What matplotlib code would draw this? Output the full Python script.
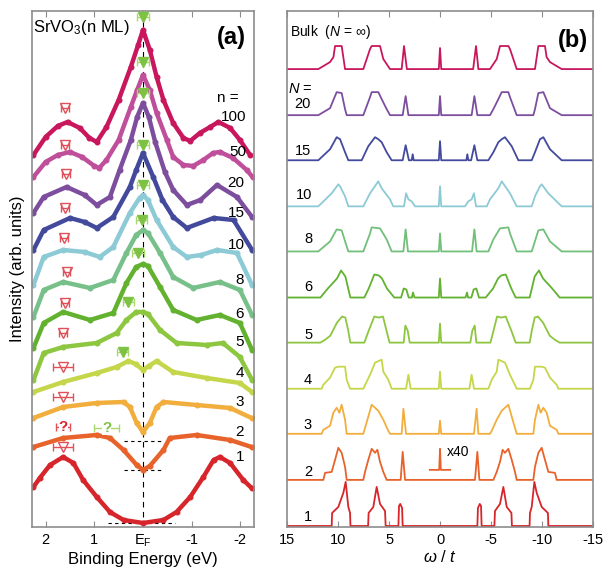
import numpy as np
import matplotlib.pyplot as plt

plt.rcParams['font.family'] = ['Liberation Sans', 'DejaVu Sans']
plt.rcParams['mathtext.fontset'] = 'custom'
plt.rcParams['mathtext.rm'] = 'Liberation Sans'
plt.rcParams['mathtext.it'] = 'Liberation Sans:italic'

###############################################################################
# panel (a): photoemission spectra, SrVO3 films of n monolayers
# binding energy (eV) and intensity (arb. units)

E_1 = [2.25, 2.12, 1.91, 1.64, 1.43, 1.23, 0.95, 0.68, 0.4, 0.0, -0.42, -0.69, -0.97, -1.24, -1.45, -1.58, -1.79, -2.06, -2.23]
I_1 = [40, 49, 62, 70, 64, 47, 30, 15, 7, 4, 7, 15, 30, 50, 67, 70, 64, 47, 39]
E_2 = [2.25, 1.64, 0.95, 0.68, 0.4, 0.13, 0.0, -0.14, -0.42, -0.55, -1.1, -1.79, -2.23]
I_2 = [80, 89, 92, 89, 77, 62, 57, 61, 77, 89, 92, 87, 80]
E_3 = [2.25, 1.64, 0.95, 0.4, 0.27, 0.13, 0.0, -0.14, -0.28, -0.42, -1.1, -1.79, -2.23]
I_3 = [109, 120, 124, 125, 120, 104, 95, 104, 120, 125, 122, 119, 109]
E_4 = [2.25, 1.64, 0.95, 0.54, 0.3, 0.15, 0.0, -0.12, -0.28, -0.62, -1.31, -1.99, -2.24]
I_4 = [135, 145, 154, 160, 166, 163, 157, 161, 166, 155, 149, 144, 135]
E_5 = [2.25, 2.04, 1.64, 0.95, 0.54, 0.34, 0.14, 0.0, -0.1, -0.35, -0.69, -1.31, -1.64, -1.99, -2.24]
I_5 = [147, 174, 180, 184, 194, 207, 215, 215, 213, 197, 184, 182, 184, 170, 147]
E_6 = [2.25, 2.04, 1.64, 1.09, 0.61, 0.34, 0.14, 0.0, -0.1, -0.35, -0.62, -1.1, -1.58, -1.99, -2.24]
I_6 = [179, 204, 215, 207, 214, 244, 260, 263, 261, 240, 217, 207, 212, 204, 177]
E_8 = [2.25, 2.04, 1.64, 1.09, 0.61, 0.34, 0.14, 0.0, -0.1, -0.35, -0.62, -1.03, -1.58, -1.99, -2.24]
I_8 = [210, 237, 245, 239, 247, 274, 292, 297, 294, 274, 250, 239, 245, 237, 212]
E_10 = [2.25, 2.04, 1.64, 1.2, 0.89, 0.61, 0.27, 0.07, 0.0, -0.1, -0.28, -0.62, -0.9, -1.2, -1.52, -1.93, -2.24]
I_10 = [242, 270, 277, 275, 270, 280, 314, 329, 332, 327, 307, 280, 270, 272, 277, 274, 242]
E_15 = [2.25, 2.04, 1.5, 1.2, 0.95, 0.61, 0.27, 0.14, 0.0, -0.21, -0.4, -0.62, -0.9, -1.45, -1.86, -2.24]
I_15 = [277, 297, 309, 305, 299, 310, 340, 357, 374, 350, 327, 310, 299, 309, 307, 277]
E_20 = [2.25, 2.04, 1.57, 1.2, 0.95, 0.68, 0.48, 0.25, 0.12, 0.0, -0.12, -0.25, -0.45, -0.62, -0.9, -1.18, -1.52, -1.93, -2.24]
I_20 = [314, 330, 340, 332, 322, 330, 357, 387, 410, 424, 410, 385, 355, 337, 322, 327, 342, 330, 310]
E_50 = [2.25, 2.0, 1.75, 1.5, 1.25, 1.0, 0.9, 0.75, 0.5, 0.25, 0.12, 0.0, -0.14, -0.28, -0.49, -0.62, -0.83, -1.03, -1.24, -1.44, -1.58, -1.85, -2.13, -2.25]
I_50 = [350, 365, 372, 375, 370, 361, 359, 367, 387, 420, 437, 452, 437, 414, 387, 370, 362, 361, 367, 374, 375, 369, 357, 350]
E_100 = [2.25, 2.0, 1.75, 1.55, 1.3, 1.1, 0.95, 0.75, 0.5, 0.25, 0.1, 0.0, -0.14, -0.28, -0.42, -0.62, -0.83, -0.97, -1.17, -1.38, -1.55, -1.79, -1.99, -2.2]
I_100 = [372, 390, 401, 405, 399, 389, 385, 400, 427, 460, 482, 497, 477, 450, 427, 404, 389, 386, 394, 400, 405, 399, 387, 372]

n_labels = ['1', '2', '3', '4', '5', '6', '8', '10', '15', '20', '50', '100']
colors_a = ['#d7262b', '#e8622b', '#f2ae3d', '#c6d64a', '#8dc63f', '#62b22f',
            '#78c08a', '#8ccad6', '#434a9c', '#7d4e9e', '#c04f9b', '#c8175d']

# quasiparticle peak (filled, green) and incoherent peak (open, red) positions
qp_E = [0.0, 0.0, 0.0, 0.0, 0.0, 0.03, 0.1, 0.3, 0.42]
qp_I = [510, 465, 434, 382, 342, 307, 274, 225, 175]
qp_err = [0.12, 0.12, 0.12, 0.12, 0.12, 0.12, 0.12, 0.12, 0.12]
hub_E = [1.6, 1.6, 1.58, 1.6, 1.62, 1.57, 1.6, 1.64, 1.64, 1.64, 1.64]
hub_I = [419, 382, 353, 319, 289, 255, 224, 194, 160, 130, 80]
hub_err = [0.08, 0.08, 0.08, 0.08, 0.08, 0.08, 0.08, 0.08, 0.2, 0.2, 0.2]

###############################################################################
# panel (b): calculated spectra, half spectrum for omega >= 0 (symmetric)

w_bulk = [15, 11.93, 10.78, 10.45, 10.29, 9.64, 9.31, 7.52, 6.86, 6.70, 5.88, 5.56, 4.90, 3.76, 3.53, 3.25, 0.12, 0]
h_bulk = [0, 0, 7, 12, 23, 23, 0, 0, 20, 23, 23, 10, 0, 0, 23, 0, 0, 21]
w_20 = [15, 11.93, 10.78, 10.46, 10.13, 9.64, 9.31, 9.15, 7.52, 6.86, 6.70, 6.05, 5.72, 5.23, 4.90, 3.66, 3.37, 3.10, 0.12, 0]
h_20 = [0, 0, 7, 15, 23, 22, 6, 0, 0, 18, 23, 23, 16, 6, 0, 0, 19, 0, 0, 19]
w_15 = [15, 11.93, 10.78, 10.13, 9.80, 9.31, 8.99, 7.68, 7.03, 6.37, 6.05, 5.72, 5.23, 4.74, 3.66, 3.37, 3.05, 2.78, 2.68, 2.58, 0.12, 0]
h_15 = [0, 0, 11, 23, 21, 8, 0, 0, 14, 23, 21, 18, 8, 0, 0, 15, 0, 0, 6, 0, 0, 19]
w_10 = [15, 11.93, 10.62, 9.97, 9.80, 9.31, 8.99, 7.52, 6.86, 6.05, 5.72, 4.90, 4.58, 3.53, 3.33, 3.10, 2.78, 2.45, 0.12, 0]
h_10 = [0, 0, 13, 22, 20, 10, 0, 0, 13, 25, 18, 7, 0, 0, 13, 7, 5, 0, 0, 20]
w_8 = [15, 11.93, 10.78, 10.13, 9.64, 9.15, 8.99, 7.52, 6.86, 6.70, 5.88, 5.23, 4.74, 3.59, 3.37, 3.14, 0.12, 0]
h_8 = [0, 0, 10, 22, 21, 5, 0, 0, 18, 24, 23, 12, 0, 0, 22, 0, 0, 18]
w_6 = [15, 11.73, 11.0, 10.1, 9.7, 9.28, 9.0, 8.79, 7.42, 6.99, 6.44, 6.0, 5.69, 5.2, 4.48, 3.82, 3.56, 3.3, 3.07, 2.75, 2.65, 2.5, 0.12, 0]
h_6 = [0, 0, 9, 19, 27, 21, 9, 0, 0, 9, 23, 22, 19, 9, 0, 0, 9, 8, 0, 0, 5, 0, 0, 19]
w_5 = [15, 11.73, 11.24, 10.75, 10.1, 9.6, 9.28, 9.0, 8.79, 7.42, 6.99, 6.44, 6.0, 5.59, 5.2, 4.94, 3.56, 3.4, 3.17, 2.97, 0.12, 0]
h_5 = [0, 0, 3, 7, 20, 26, 25, 12, 0, 0, 12, 26, 25, 26, 10, 0, 0, 17, 12, 0, 0, 19]
w_4 = [15, 11.6, 11.44, 10.78, 10.29, 9.97, 9.31, 9.15, 8.82, 7.52, 6.86, 6.37, 5.72, 5.56, 5.07, 4.74, 3.33, 3.10, 2.88, 0.12, 0]
h_4 = [0, 0, 4, 11, 21, 22, 22, 9, 0, 0, 14, 26, 29, 17, 9, 0, 0, 14, 0, 0, 17]
w_3 = [15, 11.6, 11.44, 10.78, 10.46, 10.13, 9.87, 9.64, 9.31, 9.15, 7.52, 7.12, 6.70, 6.37, 6.05, 5.56, 5.07, 4.90, 3.76, 3.59, 3.33, 0.12, 0]
h_3 = [0, 0, 4, 8, 21, 26, 21, 29, 14, 0, 0, 14, 29, 26, 23, 14, 3, 0, 0, 25, 0, 0, 13]
w_2 = [15, 11.44, 11.27, 10.62, 10.29, 9.97, 9.64, 9.31, 9.15, 7.52, 7.35, 7.03, 6.70, 6.37, 6.14, 5.88, 5.56, 5.23, 3.86, 3.66, 3.43, 0]
h_2 = [0, 0, 7, 8, 20, 32, 27, 13, 0, 0, 8, 20, 31, 27, 30, 18, 8, 0, 0, 28, 0, 0]
w_1 = [15, 10.62, 10.58, 9.97, 9.48, 9.25, 8.99, 8.82, 8.78, 7.05, 7.0, 6.54, 6.21, 5.88, 5.39, 5.33, 4.08, 4.02, 3.9, 3.72, 3.66, 0]
h_1 = [0, 0, 13, 19, 33, 44, 19, 13, 0, 0, 13, 19, 39, 22, 15, 0, 0, 20, 22, 18, 0, 0]
# N = 2 central peak magnified x40
w_x40 = [1.0, 0.08, 0.0, -0.08, -1.0]
h_x40 = [10, 10, 31, 10, 10]

N_labels = ['1', '2', '3', '4', '5', '6', '8', '10', '15', '20', 'bulk']
colors_b = ['#d7262b', '#e8622b', '#f2ae3d', '#c6d64a', '#8dc63f', '#62b22f',
            '#72bf7a', '#8ccad6', '#434a9c', '#7d4e9e', '#c8175d']
offsets_b = [1, 47, 93, 138, 184, 229, 275, 320, 366, 411, 457]

###############################################################################
# figure

fig = plt.figure(figsize=(6.04, 5.68), dpi=100)
axa = fig.add_axes([0.053, 0.0722, 0.3675, 0.9085])
axb = fig.add_axes([0.4752, 0.0722, 0.5066, 0.9085])

spine_c = '#8c8c8c'
for ax in (axa, axb):
    for s in ax.spines.values():
        s.set_color(spine_c)
        s.set_linewidth(1.2)
    ax.tick_params(axis='x', direction='in', top=True, bottom=True, length=4,
                   color=spine_c, labelsize=10.5, pad=4)
    ax.set_yticks([])

# ---- (a)
E_all = [E_1, E_2, E_3, E_4, E_5, E_6, E_8, E_10, E_15, E_20, E_50, E_100]
I_all = [I_1, I_2, I_3, I_4, I_5, I_6, I_8, I_10, I_15, I_20, I_50, I_100]

axa.axvline(0, color='k', lw=0.8, dashes=(5, 4), zorder=1)
axa.plot([0.4, -0.42], [86, 86], color='k', lw=0.8, dashes=(3, 3), zorder=1)
axa.plot([0.4, -0.4], [57, 57], color='k', lw=0.8, dashes=(3, 3), zorder=1)
axa.plot([0.71, -0.66], [4, 4], color='k', lw=0.8, dashes=(3, 3), zorder=1)

for E, I, c in zip(E_all, I_all, colors_a):
    axa.plot(E, I, color=c, lw=3.2, solid_joinstyle='round', solid_capstyle='round', zorder=2)
    axa.plot(E, I, 'o', color=c, ms=3.3, zorder=2)

red_c = '#e0505a'
gr_c = '#7dc242'
gr_light = '#a8d86e'
axa.errorbar(qp_E, qp_I, xerr=qp_err, fmt='none', ecolor=gr_light, elinewidth=1,
             capsize=3, zorder=3)
axa.plot(qp_E, qp_I, 'v', color=gr_c, ms=7.5, zorder=4, clip_on=False)
axa.errorbar(hub_E, hub_I, xerr=hub_err, fmt='none', ecolor=red_c, elinewidth=1,
             capsize=3, zorder=3)
axa.plot(hub_E, hub_I, 'v', mfc='none', mec=red_c, mew=1, ms=7.5, zorder=4)
# uncertain peaks for n = 2
axa.errorbar([1.64], [100], xerr=[0.15], fmt='none', ecolor=red_c, elinewidth=1, capsize=3)
axa.text(1.64, 100, '?', color='#d7262b', fontsize=11, fontweight='bold',
         ha='center', va='center', bbox=dict(fc='white', ec='none', pad=0))
axa.errorbar([0.75], [99], xerr=[0.25], fmt='none', ecolor=gr_light, elinewidth=1, capsize=3)
axa.text(0.75, 99, '?', color=gr_c, fontsize=11, fontweight='bold',
         ha='center', va='center', bbox=dict(fc='white', ec='none', pad=0))

axa.set_xlim(2.28, -2.28)
axa.set_ylim(0, 516)
axa.set_xticks([2, 1, 0, -1, -2])
axa.set_xticklabels(['2', '1', r'E$_\mathregular{F}$', '-1', '-2'])
axa.set_xlabel('Binding Energy (eV)', fontsize=12, labelpad=2)
axa.set_ylabel('Intensity (arb. units)', fontsize=12, labelpad=5)

axa.text(2.26, 499, r'SrVO$_\mathregular{3}$(n ML)', fontsize=12, ha='left', va='center')
axa.text(-1.81, 489, '(a)', fontsize=17, fontweight='bold', ha='center', va='center')
axa.text(-1.75, 429, 'n =', fontsize=11, ha='center', va='center')
lab_px = [240, 240, 240, 240, 240, 240, 240, 236, 236, 236, 238, 234]
lab_py = [457, 432, 402, 373, 342, 314, 280, 245, 213, 183, 152, 117]
for t, px, py in zip(n_labels, lab_px, lab_py):
    axa.text((143 - px) / 48.7, 527 - py, t, fontsize=11, ha='center', va='center')

# ---- (b)
w_all = [w_1, w_2, w_3, w_4, w_5, w_6, w_8, w_10, w_15, w_20, w_bulk]
h_all = [h_1, h_2, h_3, h_4, h_5, h_6, h_8, h_10, h_15, h_20, h_bulk]
for w, h, c, off in zip(w_all, h_all, colors_b, offsets_b):
    ww = list(w) + [-x for x in w[-2::-1]]
    hh = list(h) + list(h[-2::-1])
    axb.plot(ww, np.array(hh) + off, color=c, lw=1.3)
axb.plot(w_x40, np.array(h_x40) + offsets_b[1], color=colors_b[1], lw=1.3)
axb.text(-0.7, 75, 'x40', fontsize=10, ha='left', va='center')

axb.set_xlim(15, -15)
axb.set_ylim(0, 515)
axb.set_xticks([15, 10, 5, 0, -5, -10, -15])
axb.set_xticklabels(['15', '10', '5', '0', '-5', '-10', '-15'])
axb.set_xlabel(r'$\omega$ / $t$', fontsize=12, labelpad=2)

axb.text(14.7, 494, r'Bulk  ($N$ = ∞)', fontsize=10, ha='left', va='center')
axb.text(-13.0, 486, '(b)', fontsize=17, fontweight='bold', ha='center', va='center')
axb.text(13.7, 437, r'$N$ =', fontsize=10.5, ha='center', va='center')
Nlab_px = [308, 308, 308, 308, 308, 308, 308, 304, 303, 302]
Nlab_py = [517, 472, 425, 380, 335, 287, 240, 196, 152, 105]
for t, px, py in zip(N_labels[:-1], Nlab_px, Nlab_py):
    axb.text((440 - px) / 10.2, 527 - py, t, fontsize=10.5, ha='center', va='center')

fig.savefig('out.png', dpi=100)
